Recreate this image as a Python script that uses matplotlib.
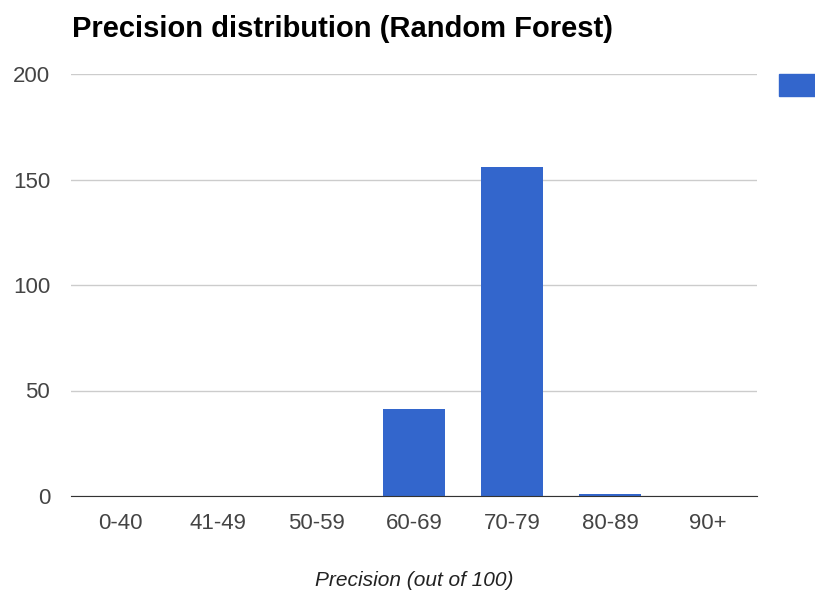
import matplotlib.pyplot as plt
from matplotlib.patches import Rectangle

categories = ["0-40", "41-49", "50-59", "60-69", "70-79", "80-89", "90+"]
counts = [0, 0, 0, 41, 156, 1, 0]
yticks = [0, 50, 100, 150, 200]

plt.rcParams['font.family'] = ['Liberation Sans', 'DejaVu Sans']

fig = plt.figure(figsize=(8.15, 5.97), dpi=100)
ax = fig.add_axes([71 / 815, 1 - 496 / 597, (757 - 71) / 815, (496 - 74) / 597])

x = range(len(categories))
ax.bar(x, counts, width=0.63, color="#3366cc", zorder=3)

ax.set_xlim(-0.5, len(categories) - 0.5)
ax.set_ylim(0, 200)
ax.set_yticks(yticks)
ax.set_xticks(list(x))
ax.set_xticklabels(categories)
ax.grid(axis="y", color="#cccccc", linewidth=1, zorder=0)
for s in ["top", "right", "left"]:
    ax.spines[s].set_visible(False)
ax.spines["bottom"].set_color("#333333")
ax.spines["bottom"].set_zorder(4)
ax.tick_params(axis="both", length=0, labelsize=16, labelcolor="#444444")
ax.tick_params(axis="y", pad=15)
ax.tick_params(axis="x", pad=12)

ax.set_xlabel("Precision (out of 100)", fontsize=15, style="italic", color="#222222", labelpad=27)

fig.text(72 / 815, 1 - 29 / 597, "Precision distribution (Random Forest)",
         fontsize=21, fontweight="bold", va="center", ha="left")

# legend swatch, label cut off at right edge
fig.patches.append(Rectangle((779 / 815, 1 - 96 / 597), 40 / 815, 22 / 597,
                             transform=fig.transFigure, color="#3366cc"))

fig.savefig("out.png", dpi=100)
